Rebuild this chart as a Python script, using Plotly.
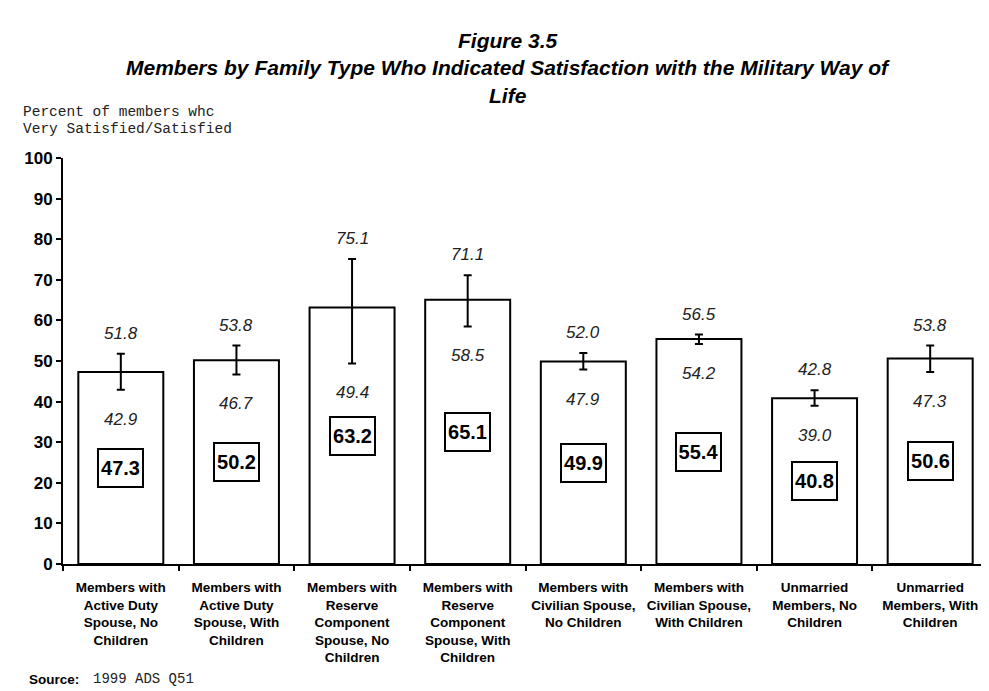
import plotly.graph_objects as go

categories = [
    "Members with<br>Active Duty<br>Spouse, No<br>Children",
    "Members with<br>Active Duty<br>Spouse, With<br>Children",
    "Members with<br>Reserve<br>Component<br>Spouse, No<br>Children",
    "Members with<br>Reserve<br>Component<br>Spouse, With<br>Children",
    "Members with<br>Civilian Spouse,<br>No Children",
    "Members with<br>Civilian Spouse,<br>With Children",
    "Unmarried<br>Members, No<br>Children",
    "Unmarried<br>Members, With<br>Children",
]
values = [47.3, 50.2, 63.2, 65.1, 49.9, 55.4, 40.8, 50.6]
upper = [51.8, 53.8, 75.1, 71.1, 52.0, 56.5, 42.8, 53.8]
lower = [42.9, 46.7, 49.4, 58.5, 47.9, 54.2, 39.0, 47.3]
y_ticks = list(range(0, 101, 10))

ARIAL = "Liberation Sans, Arial, sans-serif"
MONO = "Liberation Mono, Courier New, monospace"

fig = go.Figure()
fig.add_trace(go.Bar(
    x=categories, y=values,
    marker=dict(color="white", line=dict(color="black", width=2)),
    error_y=dict(type="data", symmetric=False,
                 array=[u - v for u, v in zip(upper, values)],
                 arrayminus=[v - l for v, l in zip(values, lower)],
                 color="black", thickness=2, width=4),
    hoverinfo="skip",
))

ann = []
for c, v, u, l in zip(categories, values, upper, lower):
    ann.append(dict(x=c, y=u, xref="x", yref="y", text=f"<i>{u:.1f}</i>", showarrow=False,
                    yanchor="bottom", yshift=9,
                    font=dict(family=ARIAL, size=17, color="#222")))
    ann.append(dict(x=c, y=l, xref="x", yref="y", text=f"<i>{l:.1f}</i>", showarrow=False,
                    yanchor="top", yshift=-18,
                    font=dict(family=ARIAL, size=17, color="#222")))
    ann.append(dict(x=c, y=v / 2, xref="x", yref="y", text=f"<b>{v:.1f}</b>", showarrow=False,
                    yanchor="middle", bordercolor="black", borderwidth=2, borderpad=1,
                    bgcolor="white", width=41, height=34,
                    font=dict(family=ARIAL, size=20, color="black")))

# page-pixel helpers (plot area: x 63..988, y 158..564 in page pixels)
def py(p):
    return (564 - p) / 406.0

def px(p):
    return (p - 63) / 925.0

ann += [
    dict(x=px(508), y=py(40), xref="paper", yref="paper", text="<b><i>Figure 3.5</i></b>",
         showarrow=False, xanchor="center", yanchor="middle",
         font=dict(family=ARIAL, size=21, color="black")),
    dict(x=px(508), y=py(68), xref="paper", yref="paper",
         text="<b><i>Members by Family Type Who Indicated Satisfaction with the Military Way of</i></b>",
         showarrow=False, xanchor="center", yanchor="middle",
         font=dict(family=ARIAL, size=21, color="black")),
    dict(x=px(508), y=py(95), xref="paper", yref="paper", text="<b><i>Life</i></b>",
         showarrow=False, xanchor="center", yanchor="middle",
         font=dict(family=ARIAL, size=21, color="black")),
    dict(x=px(21), y=py(112), xref="paper", yref="paper", text="Percent of members whc",
         showarrow=False, xanchor="left", yanchor="middle",
         font=dict(family=MONO, size=14.5, color="#222")),
    dict(x=px(21), y=py(129), xref="paper", yref="paper", text="Very Satisfied/Satisfied",
         showarrow=False, xanchor="left", yanchor="middle",
         font=dict(family=MONO, size=14.5, color="#222")),
    dict(x=px(27), y=py(679), xref="paper", yref="paper", text="<b>Source:</b>",
         showarrow=False, xanchor="left", yanchor="middle",
         font=dict(family=ARIAL, size=13.5, color="black")),
    dict(x=px(91), y=py(679), xref="paper", yref="paper", text="1999 ADS Q51",
         showarrow=False, xanchor="left", yanchor="middle",
         font=dict(family=MONO, size=14, color="#222")),
]

# the page body adds an 8px offset, so the figure is 8px smaller and margins shifted
fig.update_layout(
    width=981, height=683,
    margin=dict(l=55, r=1, t=150, b=127),
    paper_bgcolor="white", plot_bgcolor="white",
    showlegend=False, bargap=0.265,
    annotations=ann,
    xaxis=dict(showline=True, linecolor="black", linewidth=2, ticks="outside",
               tickson="boundaries", ticklen=5, tickwidth=2, tickcolor="black",
               tickvals=categories, ticktext=[f"<b>{c}</b>" for c in categories],
               ticklabelstandoff=10, automargin=False,
               showgrid=False, zeroline=False,
               tickfont=dict(family=ARIAL, size=13.5, color="black")),
    yaxis=dict(range=[0, 100], tickvals=y_ticks, ticktext=[f"<b>{t}</b>" for t in y_ticks],
               showline=True, linecolor="black", linewidth=2, ticks="outside",
               ticklen=5, tickwidth=2, tickcolor="black", showgrid=False, zeroline=False,
               automargin=False,
               tickfont=dict(family=ARIAL, size=17, color="black")),
)

fig.write_html("out.html")
